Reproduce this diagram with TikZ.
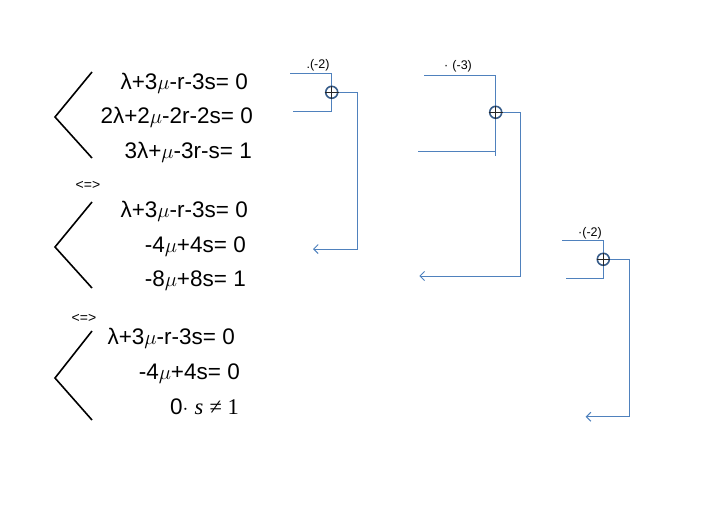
\documentclass[tikz,border=0pt]{standalone}
\usepackage{fontspec}
\setmainfont{Liberation Sans}
\newfontfamily\mathlike{Liberation Serif}
\usetikzlibrary{arrows.meta}
\definecolor{linecol}{HTML}{4F81BD}
\definecolor{circcol}{HTML}{385D8A}
\tikzset{
  eq/.style={anchor=base east, inner sep=0pt, font=\fontsize{22.5}{26}\selectfont},
  equiv/.style={anchor=center, inner sep=0pt, font=\fontsize{14}{16}\selectfont},
  mult/.style={anchor=center, inner sep=0pt, font=\fontsize{12.5}{14}\selectfont},
  brack/.style={draw=black, line width=1.6pt},
  conn/.style={draw=linecol, line width=1pt},
  arr/.style={conn, -{Straight Barb[length=4.5pt,width=9pt]}},
  plusnode/.style={circle, draw=circcol, line width=1.6pt, fill=white, minimum size=12pt, inner sep=0pt},
  plussign/.style={draw=black!85, line width=1.1pt}
}
\begin{document}
\begin{tikzpicture}[x=1pt,y=-1pt]
\useasboundingbox (0,0) rectangle (708,523);
% brackets
\draw[brack] (92,72) -- (55,117) -- (92,158);
\draw[brack] (92,202) -- (55,247) -- (92,288);
\draw[brack] (92,331) -- (55,378) -- (92,420);
% block 1
\node[eq] (e11) at (248,89) {λ+3$\mu$-r-3s= 0};
\node[eq] (e12) at (253,123.5) {2λ+2$\mu$-2r-2s= 0};
\node[eq] (e13) at (252,158) {3λ+$\mu$-3r-s= 1};
\node[equiv] (q1) at (88,185) {<=>};
% block 2
\node[eq] (e21) at (248,217.5) {λ+3$\mu$-r-3s= 0};
\node[eq] (e22) at (246,252) {-4$\mu$+4s= 0};
\node[eq] (e23) at (246,286) {-8$\mu$+8s= 1};
\node[equiv] (q2) at (84,318) {<=>};
% block 3
\node[eq] (e31) at (235,344) {λ+3$\mu$-r-3s= 0};
\node[eq] (e32) at (240,379) {-4$\mu$+4s= 0};
\node[eq] (e33) at (239,414) {0$\cdot$ {\mathlike\itshape s} {\mathlike ≠ 1}};
% connector 1
\coordinate (a1s) at (290,73.3);
\coordinate (a1c) at (331.7,73.3);
\coordinate (b1s) at (293.3,111);
\coordinate (b1c) at (331.7,111);
\coordinate (r1) at (357,92.3);
\coordinate (t1) at (313,249);
\draw[conn] (a1s) -- (a1c) -- (b1c) -- (b1s);
\node[plusnode] (c1) at (331.7,92.3) {};
\draw[plussign] (c1.north) -- (c1.south) (c1.west) -- (c1.east);
\draw[arr] (c1.east) -- (r1) -- (r1 |- t1) -- (t1);
\node[mult] (m1) at (318,65) {.(-2)};
% connector 2
\coordinate (a2s) at (424,75);
\coordinate (a2c) at (495.7,75);
\coordinate (b2s) at (418.3,151);
\coordinate (b2c) at (495.7,151);
\coordinate (v2e) at (495.7,156);
\coordinate (r2) at (520,112.3);
\coordinate (t2) at (419.3,276);
\draw[conn] (a2s) -- (a2c) -- (v2e);
\draw[conn] (b2s) -- (b2c);
\node[plusnode] (c2) at (495.7,112.3) {};
\draw[plussign] (c2.north) -- (c2.south) (c2.west) -- (c2.east);
\draw[arr] (c2.east) -- (r2) -- (r2 |- t2) -- (t2);
\node[mult] (m2) at (458,66) {·\,\,(-3)};
% connector 3
\coordinate (a3s) at (562.3,240.7);
\coordinate (a3c) at (603.3,240.7);
\coordinate (b3s) at (565.7,278.3);
\coordinate (b3c) at (603.3,278.3);
\coordinate (r3) at (629.3,259.3);
\coordinate (t3) at (585.7,416.7);
\draw[conn] (a3s) -- (a3c) -- (b3c) -- (b3s);
\node[plusnode] (c3) at (603.3,259.3) {};
\draw[plussign] (c3.north) -- (c3.south) (c3.west) -- (c3.east);
\draw[arr] (c3.east) -- (r3) -- (r3 |- t3) -- (t3);
\node[mult] (m3) at (590,233) {·(-2)};
\end{tikzpicture}
\end{document}
